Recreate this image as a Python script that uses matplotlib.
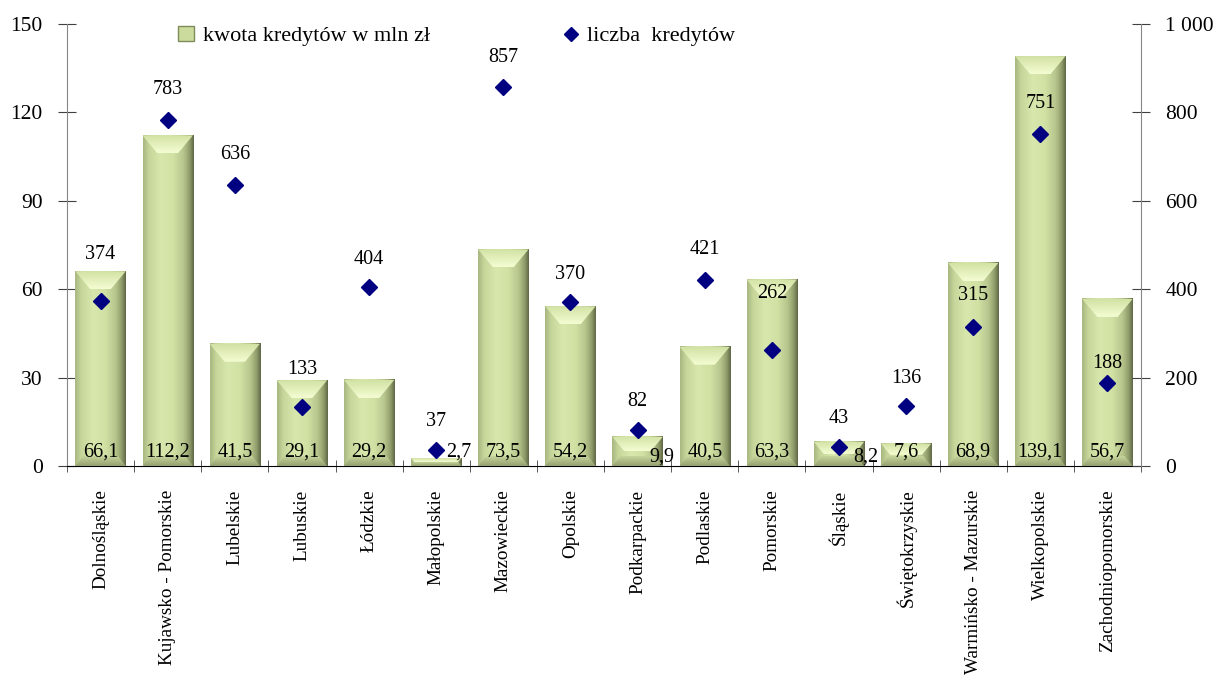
import numpy as np
import matplotlib
matplotlib.use("Agg")
import matplotlib.pyplot as plt
from matplotlib.patches import Polygon, Patch
from matplotlib.lines import Line2D
from matplotlib.colors import LinearSegmentedColormap
from matplotlib.ticker import FuncFormatter

# ---------------- data ----------------
regions = ["Dolnośląskie", "Kujawsko - Pomorskie", "Lubelskie", "Lubuskie", "Łódzkie",
           "Małopolskie", "Mazowieckie", "Opolskie", "Podkarpackie", "Podlaskie",
           "Pomorskie", "Śląskie", "Świętokrzyskie", "Warmińsko - Mazurskie",
           "Wielkopolskie", "Zachodniopomorskie"]
amount_mln = [66.1, 112.2, 41.5, 29.1, 29.2, 2.7, 73.5, 54.2, 9.9, 40.5,
              63.3, 8.2, 7.6, 68.9, 139.1, 56.7]
loan_count = [374, 783, 636, 133, 404, 37, 857, 370, 82, 421,
              262, 43, 136, 315, 751, 188]
left_ticks = [0, 30, 60, 90, 120, 150]
right_ticks = [0, 200, 400, 600, 800, 1000]
legend_labels = ["kwota kredytów w mln zł", "liczba  kredytów"]

# label offsets (pixels) -- styling only
count_label_dy = [46, 30, 30, 38, 28, 28, 30, 28, 28, 30, 57, 28, 27, 31, 31, 19]
amount_label_off = [(0, 14)] * 16
amount_label_off[5] = (23, 14)
amount_label_off[8] = (24, 9)
amount_label_off[11] = (27, 9)

plt.rcParams['font.family'] = ['Liberation Serif', 'DejaVu Serif']

W, H = 1217, 677
fig = plt.figure(figsize=(W / 100, H / 100), dpi=100)
ax_l, ax_r, ax_t, ax_b = 67, 1141, 24, 466
ax = fig.add_axes([ax_l / W, 1 - ax_b / H, (ax_r - ax_l) / W, (ax_b - ax_t) / H])

n = len(regions)
x = np.arange(n)
bw = 0.75
ax.set_xlim(-0.5, n - 0.5)
ax.set_ylim(0, 150)

px_x = (ax_r - ax_l) / n
px_y = (ax_b - ax_t) / 150.0

body_cmap = LinearSegmentedColormap.from_list("body", [
    (0.0, "#a8b680"), (0.12, "#c6d69a"), (0.35, "#d8e8ad"), (0.6, "#d1e1a4"),
    (0.8, "#b6c58c"), (0.92, "#8f9c6a"), (1.0, "#5d6644")])
top_cmap = LinearSegmentedColormap.from_list("top", ["#f4fdd2", "#d2e2a4"])
bot_cmap = LinearSegmentedColormap.from_list("bot", ["#949f70", "#c6d59c"])

grad_h = np.linspace(0, 1, 256).reshape(1, -1)
grad_v = np.linspace(0, 1, 64).reshape(-1, 1)

for xi, v in zip(x, amount_mln):
    x0, x1 = xi - bw / 2, xi + bw / 2
    ax.imshow(grad_h, cmap=body_cmap, extent=(x0, x1, 0, v), aspect='auto',
              interpolation='bicubic', zorder=2)
    h_px = v * px_y
    d_px = min(18.0, h_px / 2.0)
    b_px = 15.0 * d_px / 18.0
    dx = b_px / px_x
    dy = d_px / px_y
    top_poly = Polygon([(x0, v), (x1, v), (x1 - dx, v - dy), (x0 + dx, v - dy)],
                       closed=True, facecolor='none', edgecolor='none')
    ax.add_patch(top_poly)
    im = ax.imshow(grad_v, cmap=top_cmap, extent=(x0, x1, v - dy, v), aspect='auto',
                   interpolation='bicubic', zorder=3, origin='lower')
    im.set_clip_path(top_poly)
    db_px = min(10.0, h_px / 2.0)
    bb_px = 8.0 * db_px / 10.0
    ddx = bb_px / px_x
    ddy = db_px / px_y
    bot_poly = Polygon([(x0, 0), (x1, 0), (x1 - ddx, ddy), (x0 + ddx, ddy)],
                       closed=True, facecolor='none', edgecolor='none')
    ax.add_patch(bot_poly)
    im2 = ax.imshow(grad_v, cmap=bot_cmap, extent=(x0, x1, 0, ddy), aspect='auto',
                    interpolation='bicubic', zorder=3, origin='lower')
    im2.set_clip_path(bot_poly)

for xi, v, off in zip(x, amount_mln, amount_label_off):
    ax.annotate(f"{v:.1f}".replace('.', ','), (xi, 0), xytext=off,
                textcoords='offset pixels', ha='center', va='center',
                fontsize=14.5, zorder=6)

ax.set_xlim(-0.5, n - 0.5)
ax.set_ylim(0, 150)

ax.set_yticks(left_ticks)
ax.set_xticks(x)
ax.set_xticklabels(regions, rotation=90, fontsize=13.8)
ax.set_xticks(np.arange(-0.5, n, 1.0), minor=True)
ax.tick_params(axis='x', which='major', length=0, pad=17)
ax.tick_params(axis='x', which='minor', length=9, direction='inout', color='#404040')
ax.tick_params(axis='y', length=13, direction='inout', color='#404040',
               labelsize=15.5, pad=11)
ax.spines['top'].set_visible(False)
ax.spines['right'].set_visible(False)
ax.spines['left'].set_color('#868686')
ax.spines['bottom'].set_color('#000000')

ax2 = ax.twinx()
ax2.set_ylim(0, 1000)
ax2.plot(x, loan_count, linestyle='none', marker='D', ms=8, color='#000080', zorder=5)
for xi, c, dy in zip(x, loan_count, count_label_dy):
    ax2.annotate(str(c), (xi, c), xytext=(0, dy), textcoords='offset pixels',
                 ha='center', va='center', fontsize=14.5)
ax2.set_yticks(right_ticks)
ax2.yaxis.set_major_formatter(FuncFormatter(lambda v, p: f"{int(v):,}".replace(',', ' ')))
ax2.tick_params(axis='y', length=13, direction='inout', color='#404040',
                labelsize=15.5, pad=11)
for s in ['top', 'left', 'bottom']:
    ax2.spines[s].set_visible(False)
ax2.spines['right'].set_color('#868686')

handles = [Patch(facecolor='#cbdb9e', edgecolor='#7f8c5a', linewidth=1.0),
           Line2D([], [], linestyle='none', marker='D', ms=7, color='#000080')]
fig.legend(handles, legend_labels, loc='center left', bbox_to_anchor=(167 / W, 1 - 36 / H),
           ncol=2, frameon=False, fontsize=16, columnspacing=6.0, handlelength=0.7,
           handletextpad=0.4, borderpad=0)

fig.savefig("out.png", dpi=100)
